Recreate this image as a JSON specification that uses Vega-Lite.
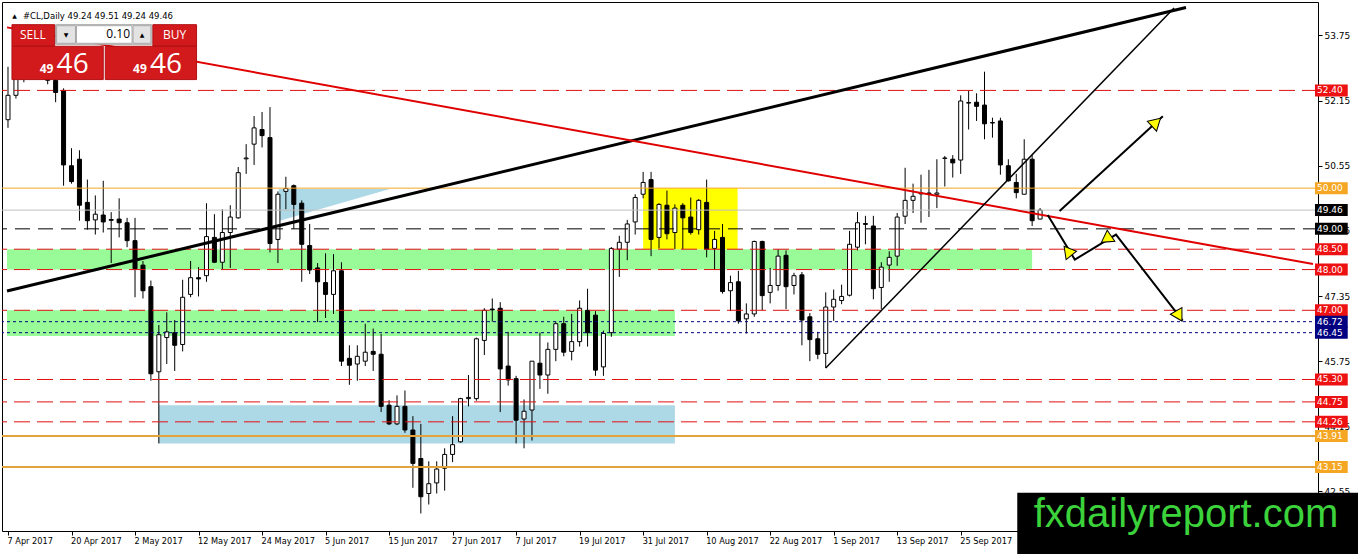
{
  "$schema": "https://vega.github.io/schema/vega-lite/v6.json",
  "description": "#CL daily candles with support/resistance levels, zones, trendlines and arrows.",
  "width": 1316,
  "height": 529,
  "autosize": {"type": "none"},
  "padding": {"left": 2, "top": 2, "right": 40, "bottom": 23},
  "background": "white",
  "config": {"view": {"stroke": "black", "strokeWidth": 1}, "axis": {"domain": false, "grid": false}},
  "datasets": {
    "candles": [
      {"i":0,"o":51.68,"h":52.98,"l":51.48,"c":52.28},{"i":1,"o":52.28,"h":53.0,"l":52.2,"c":52.8},
      {"i":2,"o":52.8,"h":53.35,"l":52.6,"c":53.25},{"i":3,"o":53.25,"h":53.6,"l":52.95,"c":53.05},
      {"i":4,"o":53.05,"h":53.45,"l":52.8,"c":53.15},{"i":5,"o":53.15,"h":53.3,"l":52.55,"c":52.65},
      {"i":6,"o":52.65,"h":52.95,"l":52.11,"c":52.35},{"i":7,"o":52.4,"h":52.45,"l":50.06,"c":50.57},
      {"i":8,"o":50.55,"h":50.98,"l":50.11,"c":50.16},{"i":9,"o":50.71,"h":50.93,"l":49.2,"c":49.58},
      {"i":10,"o":49.65,"h":50.21,"l":48.98,"c":49.2},{"i":11,"o":49.22,"h":49.82,"l":48.86,"c":49.36},
      {"i":12,"o":49.34,"h":50.18,"l":48.91,"c":49.17},{"i":13,"o":49.23,"h":49.41,"l":48.16,"c":49.21},
      {"i":14,"o":49.24,"h":49.75,"l":48.79,"c":49.15},{"i":15,"o":49.15,"h":49.27,"l":48.55,"c":48.71},
      {"i":16,"o":48.71,"h":49.27,"l":47.32,"c":48.02},{"i":17,"o":48.11,"h":48.21,"l":47.29,"c":47.48},
      {"i":18,"o":47.58,"h":47.73,"l":45.27,"c":45.44},{"i":19,"o":45.49,"h":46.64,"l":43.73,"c":46.4},
      {"i":20,"o":46.33,"h":46.95,"l":45.68,"c":46.47},{"i":21,"o":46.45,"h":46.76,"l":45.51,"c":46.14},
      {"i":22,"o":46.16,"h":47.75,"l":45.99,"c":47.32},{"i":23,"o":47.39,"h":48.21,"l":47.32,"c":47.8},
      {"i":24,"o":47.8,"h":48.06,"l":47.34,"c":47.77},{"i":25,"o":47.85,"h":49.63,"l":47.7,"c":48.81},
      {"i":26,"o":48.79,"h":49.36,"l":48.16,"c":48.18},{"i":27,"o":48.18,"h":49.48,"l":47.99,"c":48.91},
      {"i":28,"o":48.91,"h":49.58,"l":48.04,"c":49.29},{"i":29,"o":49.27,"h":50.52,"l":49.25,"c":50.38},
      {"i":30,"o":50.72,"h":51.08,"l":50.35,"c":50.74},{"i":31,"o":51.08,"h":51.77,"l":50.57,"c":51.48},
      {"i":32,"o":51.44,"h":51.87,"l":51.0,"c":51.29},{"i":33,"o":51.24,"h":51.99,"l":48.42,"c":48.64},
      {"i":34,"o":48.74,"h":49.92,"l":48.16,"c":49.85},{"i":35,"o":49.92,"h":50.28,"l":49.48,"c":49.99},
      {"i":36,"o":50.06,"h":50.09,"l":49.0,"c":49.6},{"i":37,"o":49.63,"h":49.7,"l":47.7,"c":48.62},
      {"i":38,"o":48.59,"h":49.12,"l":47.89,"c":47.99},{"i":39,"o":48.04,"h":48.16,"l":46.71,"c":47.7},
      {"i":40,"o":47.68,"h":48.4,"l":46.81,"c":47.39},{"i":41,"o":47.39,"h":48.38,"l":46.91,"c":47.97},
      {"i":42,"o":47.97,"h":48.18,"l":45.63,"c":45.75},{"i":43,"o":45.82,"h":46.14,"l":45.17,"c":45.65},
      {"i":44,"o":45.68,"h":46.14,"l":45.27,"c":45.87},{"i":45,"o":45.75,"h":46.67,"l":45.63,"c":45.97},
      {"i":46,"o":45.99,"h":46.55,"l":45.51,"c":45.92},{"i":47,"o":45.92,"h":46.42,"l":44.5,"c":44.64},
      {"i":48,"o":44.67,"h":44.79,"l":44.18,"c":44.21},{"i":49,"o":44.21,"h":44.91,"l":44.18,"c":44.64},
      {"i":50,"o":44.64,"h":45.03,"l":43.99,"c":44.06},{"i":51,"o":44.06,"h":44.4,"l":42.64,"c":43.24},
      {"i":52,"o":43.36,"h":44.21,"l":42.01,"c":42.42},{"i":53,"o":42.5,"h":43.29,"l":42.23,"c":42.74},
      {"i":54,"o":42.76,"h":43.29,"l":42.5,"c":43.1},{"i":55,"o":43.12,"h":43.61,"l":42.57,"c":43.46},
      {"i":56,"o":43.46,"h":44.4,"l":43.27,"c":43.7},{"i":57,"o":43.77,"h":44.85,"l":43.75,"c":44.83},
      {"i":58,"o":44.83,"h":45.41,"l":44.64,"c":44.86},{"i":59,"o":44.83,"h":46.33,"l":44.78,"c":46.3},
      {"i":60,"o":46.26,"h":47.05,"l":45.9,"c":47.0},{"i":61,"o":47.03,"h":47.29,"l":46.72,"c":47.01},
      {"i":62,"o":47.05,"h":47.2,"l":44.5,"c":45.56},{"i":63,"o":45.63,"h":46.47,"l":45.15,"c":45.29},
      {"i":64,"o":45.32,"h":45.39,"l":43.73,"c":44.3},{"i":65,"o":44.33,"h":44.81,"l":43.61,"c":44.52},
      {"i":66,"o":44.55,"h":45.75,"l":43.8,"c":45.75},{"i":67,"o":45.7,"h":46.45,"l":45.07,"c":45.41},
      {"i":68,"o":45.41,"h":46.21,"l":44.95,"c":46.04},{"i":69,"o":46.04,"h":46.72,"l":45.75,"c":46.67},
      {"i":70,"o":46.67,"h":46.84,"l":45.87,"c":45.97},{"i":71,"o":45.99,"h":46.91,"l":45.77,"c":46.23},
      {"i":72,"o":46.23,"h":47.24,"l":46.11,"c":47.05},{"i":73,"o":47.0,"h":47.53,"l":46.11,"c":46.45},
      {"i":74,"o":46.88,"h":46.98,"l":45.39,"c":45.53},{"i":75,"o":45.61,"h":46.5,"l":45.39,"c":46.43},
      {"i":76,"o":46.45,"h":48.55,"l":46.35,"c":48.52},{"i":77,"o":48.5,"h":48.83,"l":47.82,"c":48.67},
      {"i":78,"o":48.67,"h":49.22,"l":48.23,"c":49.12},{"i":79,"o":49.17,"h":49.85,"l":48.86,"c":49.77},
      {"i":80,"o":49.85,"h":50.4,"l":49.75,"c":50.14},{"i":81,"o":50.21,"h":50.4,"l":48.33,"c":48.74},
      {"i":82,"o":48.79,"h":49.63,"l":48.52,"c":49.6},{"i":83,"o":49.58,"h":49.94,"l":48.74,"c":48.88},
      {"i":84,"o":48.91,"h":49.6,"l":48.5,"c":49.51},{"i":85,"o":49.58,"h":49.63,"l":48.5,"c":49.27},
      {"i":86,"o":49.29,"h":49.77,"l":48.86,"c":48.91},{"i":87,"o":48.98,"h":49.73,"l":48.86,"c":49.7},
      {"i":88,"o":49.65,"h":50.21,"l":48.3,"c":48.5},{"i":89,"o":48.52,"h":48.95,"l":47.99,"c":48.74},
      {"i":90,"o":48.79,"h":49.12,"l":47.41,"c":47.46},{"i":91,"o":47.48,"h":47.85,"l":46.98,"c":47.68},
      {"i":92,"o":47.7,"h":47.97,"l":46.67,"c":46.74},{"i":93,"o":46.79,"h":47.17,"l":46.43,"c":46.91},
      {"i":94,"o":46.91,"h":48.71,"l":46.84,"c":48.69},{"i":95,"o":48.69,"h":48.71,"l":47.0,"c":47.36},
      {"i":96,"o":47.44,"h":48.04,"l":47.17,"c":47.61},{"i":97,"o":47.61,"h":48.5,"l":47.48,"c":48.33},
      {"i":98,"o":48.35,"h":48.47,"l":47.03,"c":47.58},{"i":99,"o":47.61,"h":47.92,"l":47.39,"c":47.85},
      {"i":100,"o":47.87,"h":47.94,"l":46.14,"c":46.76},{"i":101,"o":46.84,"h":46.93,"l":45.75,"c":46.28},
      {"i":102,"o":46.3,"h":46.47,"l":45.8,"c":45.92},{"i":103,"o":45.94,"h":47.44,"l":45.58,"c":47.08},
      {"i":104,"o":47.08,"h":47.51,"l":46.74,"c":47.27},{"i":105,"o":47.24,"h":47.63,"l":47.15,"c":47.34},
      {"i":106,"o":47.37,"h":48.95,"l":47.34,"c":48.62},{"i":107,"o":48.55,"h":49.41,"l":48.47,"c":49.15},
      {"i":108,"o":49.13,"h":49.32,"l":48.62,"c":49.11},{"i":109,"o":49.07,"h":49.32,"l":47.27,"c":47.53},
      {"i":110,"o":47.56,"h":48.18,"l":47.03,"c":48.06},{"i":111,"o":48.11,"h":48.45,"l":47.7,"c":48.3},
      {"i":112,"o":48.33,"h":49.39,"l":48.09,"c":49.29},{"i":113,"o":49.31,"h":50.5,"l":49.12,"c":49.7},
      {"i":114,"o":49.7,"h":50.11,"l":49.39,"c":49.8},{"i":115,"o":49.88,"h":50.33,"l":49.15,"c":49.86},
      {"i":116,"o":49.88,"h":50.45,"l":49.29,"c":49.86},{"i":117,"o":49.85,"h":50.71,"l":49.51,"c":49.88},
      {"i":118,"o":50.73,"h":50.79,"l":50.04,"c":50.74},{"i":119,"o":50.71,"h":50.81,"l":50.26,"c":50.62},
      {"i":120,"o":50.69,"h":52.28,"l":50.35,"c":52.14},{"i":121,"o":52.1,"h":52.4,"l":51.44,"c":52.09},
      {"i":122,"o":52.11,"h":52.33,"l":51.65,"c":52.01},{"i":123,"o":52.04,"h":52.86,"l":51.2,"c":51.58},
      {"i":124,"o":51.61,"h":51.73,"l":51.24,"c":51.6},{"i":125,"o":51.65,"h":51.73,"l":50.33,"c":50.57},
      {"i":126,"o":50.55,"h":50.71,"l":50.16,"c":50.18},{"i":127,"o":50.14,"h":50.35,"l":49.75,"c":49.89},
      {"i":128,"o":49.85,"h":51.2,"l":49.85,"c":50.71},{"i":129,"o":50.71,"h":50.81,"l":49.07,"c":49.2},
      {"i":130,"o":49.24,"h":49.51,"l":49.24,"c":49.46}
    ],
    "levels": [
      {"p":52.40,"k":"r"},{"p":50.00,"k":"o"},{"p":49.46,"k":"g"},{"p":49.00,"k":"b"},
      {"p":48.50,"k":"r"},{"p":48.00,"k":"r"},{"p":47.00,"k":"r"},{"p":46.72,"k":"n"},
      {"p":46.45,"k":"n"},{"p":45.30,"k":"r"},{"p":44.75,"k":"r"},{"p":44.26,"k":"r"},
      {"p":43.91,"k":"oo"},{"p":43.15,"k":"oo"}
    ],
    "zones": [
      {"i":-0.125,"i2":129,"p":48.5,"p2":48.0,"k":"green"},
      {"i":-0.125,"i2":84,"p":47.0,"p2":46.37,"k":"green"},
      {"i":19,"i2":84,"p":44.67,"p2":43.73,"k":"lblue"},
      {"i":80,"i2":91.9,"p":50.0,"p2":48.5,"k":"yellow"}
    ],
    "tri": [
      {"i":34.1,"p":49.98,"p2":49.19},
      {"i":48.1,"p":49.98,"p2":49.98}
    ],
    "lines": [
      {"g":"thick","i":-0.125,"p":47.473},{"g":"thick","i":148.375,"p":54.437},
      {"g":"red","i":-0.125,"p":53.948},{"g":"red","i":164.375,"p":48.136},
      {"g":"thin","i":103,"p":45.58},{"g":"thin","i":146.875,"p":54.425},
      {"g":"A","i":132.46,"p":49.437},{"g":"A","i":145.46,"p":51.767},
      {"g":"B","i":130.96,"p":49.34},{"g":"B","i":134.375,"p":48.244},
      {"g":"B","i":139.56,"p":48.858},{"g":"B","i":147.96,"p":46.745}
    ],
    "heads": [
      {"g":"A","i":144.625,"p":51.617},
      {"g":"B1","i":133.875,"p":48.43},
      {"g":"B2","i":138.75,"p":48.755},
      {"g":"B3","i":147.5,"p":46.86}
    ],
    "panel": [
      {"i":6.0,"i2":18.125,"p":54.015,"p2":53.533,"k":"ctrl"},
      {"i":6.125,"i2":8.5,"p":53.99,"p2":53.557,"k":"btn"},
      {"i":8.625,"i2":15.625,"p":53.99,"p2":53.557,"k":"field"},
      {"i":15.75,"i2":18.0,"p":53.99,"p2":53.557,"k":"btn"},
      {"i":0.5,"i2":5.875,"p":54.015,"p2":53.485,"k":"red"},
      {"i":18.25,"i2":23.75,"p":54.015,"p2":53.485,"k":"red"},
      {"i":0.5,"i2":12.0,"p":53.485,"p2":52.666,"k":"red"},
      {"i":12.25,"i2":23.75,"p":53.485,"p2":52.666,"k":"red"}
    ],
    "ptext": [
      {"t":"SELL","i":3.125,"p":53.75,"k":"lbl"},
      {"t":"BUY","i":21.0,"p":53.75,"k":"lbl"},
      {"t":"0.10","i":15.375,"p":53.774,"k":"qty"},
      {"t":"▼","i":7.3125,"p":53.762,"k":"arr"},
      {"t":"▲","i":16.875,"p":53.762,"k":"arr"},
      {"t":"49","i":4.0,"p":52.834,"k":"sm"},
      {"t":"46","i":6.125,"p":52.834,"k":"big"},
      {"t":"49","i":15.75,"p":52.834,"k":"sm"},
      {"t":"46","i":17.875,"p":52.834,"k":"big"},
      {"t":"▲","i":0.8125,"p":54.232,"k":"arr"},
      {"t":"#CL,Daily  49.24 49.51 49.24 49.46","i":1.875,"p":54.232,"k":"hdr"}
    ],
    "wm": [
      {"i":127.125,"i2":175,"p":42.521,"p2":40.5,"t":"fxdailyreport.com","ti":148.375,"tp":41.678}
    ]
  },
  "layer": [
    {
      "data": {"name": "zones"},
      "mark": {"type": "rect"},
      "encoding": {
        "x": {
          "field": "i", "type": "quantitative",
          "scale": {"domain": [-0.125, 164.375], "nice": false, "zero": false},
          "axis": {
            "orient": "bottom", "title": null,
            "values": [0, 8, 16, 24, 32, 40, 48, 56, 64, 72, 80, 88, 96, 104, 112, 120],
            "labelExpr": "['7 Apr 2017','20 Apr 2017','2 May 2017','12 May 2017','24 May 2017','5 Jun 2017','15 Jun 2017','27 Jun 2017','7 Jul 2017','19 Jul 2017','31 Jul 2017','10 Aug 2017','22 Aug 2017','1 Sep 2017','13 Sep 2017','25 Sep 2017'][round(datum.value / 8)]",
            "tickSize": 4, "tickColor": "black",
            "labelAlign": "left", "labelBaseline": "top", "labelPadding": 2, "labelOffset": -1,
            "labelFont": "DejaVu Sans", "labelFontSize": 8.2, "labelColor": "black",
            "labelOverlap": false, "labelBound": false, "labelFlush": false
          }
        },
        "x2": {"field": "i2"},
        "y": {
          "field": "p", "type": "quantitative",
          "scale": {"domain": [41.7018, 54.4488], "nice": false, "zero": false},
          "axis": {
            "orient": "right", "title": null,
            "values": [53.75, 52.95, 52.15, 51.35, 50.55, 49.75, 48.95, 48.15, 47.35, 46.55, 45.75, 44.95, 44.15, 43.35, 42.55],
            "format": ".2f", "tickSize": 4, "tickColor": "black", "labelPadding": 2,
            "labelFont": "DejaVu Sans", "labelFontSize": 9, "labelColor": "black",
            "labelOverlap": false, "labelBound": false, "labelFlush": false
          }
        },
        "y2": {"field": "p2"},
        "fill": {
          "field": "k", "type": "nominal", "legend": null,
          "scale": {
            "domain": ["green","lblue","yellow","r","o","oo","g","b","n","ctrl","btn","field","red"],
            "range": ["#98FB98","#ADD8E6","#FFFF00","#EE1111","#F5A623","#F5A623","#000000","#000000","#000080","#F0F0F0","#E3E3E3","#FFFFFF","#D2191B"]
          }
        }
      }
    },
    {
      "data": {"name": "tri"},
      "mark": {"type": "area", "color": "#ADD8E6", "opacity": 1},
      "encoding": {
        "x": {"field": "i", "type": "quantitative", "title": null},
        "y": {"field": "p", "type": "quantitative", "title": null},
        "y2": {"field": "p2"}
      }
    },
    {
      "data": {"name": "candles"},
      "mark": {"type": "rule", "color": "black", "strokeWidth": 1},
      "encoding": {
        "x": {"field": "i", "type": "quantitative", "title": null},
        "y": {"field": "l", "type": "quantitative", "title": null},
        "y2": {"field": "h"}
      }
    },
    {
      "data": {"name": "candles"},
      "mark": {"type": "bar", "size": 4, "stroke": "black", "strokeWidth": 1},
      "encoding": {
        "x": {"field": "i", "type": "quantitative", "title": null},
        "y": {"field": "o", "type": "quantitative", "title": null},
        "y2": {"field": "c"},
        "fill": {"condition": {"test": "datum.c >= datum.o", "value": "white"}, "value": "black"}
      }
    },
    {
      "data": {"name": "levels"},
      "transform": [{"filter": "datum.k == 'g'"}],
      "mark": {"type": "rule", "color": "#C0C0C0", "strokeWidth": 1},
      "encoding": {"y": {"field": "p", "type": "quantitative", "title": null}}
    },
    {
      "data": {"name": "levels"},
      "transform": [{"filter": "datum.k == 'r'"}],
      "mark": {"type": "rule", "color": "#E01010", "strokeWidth": 1, "strokeDash": [16, 7]},
      "encoding": {"y": {"field": "p", "type": "quantitative", "title": null}}
    },
    {
      "data": {"name": "levels"},
      "transform": [{"filter": "datum.k == 'o'"}],
      "mark": {"type": "rule", "color": "#F5A623", "strokeWidth": 1},
      "encoding": {"y": {"field": "p", "type": "quantitative", "title": null}}
    },
    {
      "data": {"name": "levels"},
      "transform": [{"filter": "datum.k == 'oo'"}],
      "mark": {"type": "rule", "color": "#E3A33C", "strokeWidth": 2},
      "encoding": {"y": {"field": "p", "type": "quantitative", "title": null}}
    },
    {
      "data": {"name": "levels"},
      "transform": [{"filter": "datum.k == 'b'"}],
      "mark": {"type": "rule", "color": "black", "strokeWidth": 1, "strokeDash": [15, 8]},
      "encoding": {"y": {"field": "p", "type": "quantitative", "title": null}}
    },
    {
      "data": {"name": "levels"},
      "transform": [{"filter": "datum.k == 'n'"}],
      "mark": {"type": "rule", "color": "#000080", "strokeWidth": 1, "strokeDash": [3, 3]},
      "encoding": {"y": {"field": "p", "type": "quantitative", "title": null}}
    },
    {
      "data": {"name": "lines"},
      "transform": [{"filter": "datum.g == 'thick'"}],
      "mark": {"type": "line", "color": "black", "strokeWidth": 3},
      "encoding": {
        "x": {"field": "i", "type": "quantitative", "title": null},
        "y": {"field": "p", "type": "quantitative", "title": null}
      }
    },
    {
      "data": {"name": "lines"},
      "transform": [{"filter": "datum.g == 'red'"}],
      "mark": {"type": "line", "color": "#E00000", "strokeWidth": 2},
      "encoding": {
        "x": {"field": "i", "type": "quantitative", "title": null},
        "y": {"field": "p", "type": "quantitative", "title": null}
      }
    },
    {
      "data": {"name": "lines"},
      "transform": [{"filter": "datum.g == 'thin'"}],
      "mark": {"type": "line", "color": "black", "strokeWidth": 1.5},
      "encoding": {
        "x": {"field": "i", "type": "quantitative", "title": null},
        "y": {"field": "p", "type": "quantitative", "title": null}
      }
    },
    {
      "data": {"name": "lines"},
      "transform": [{"filter": "datum.g == 'A' || datum.g == 'B'"}],
      "mark": {"type": "line", "color": "black", "strokeWidth": 2},
      "encoding": {
        "x": {"field": "i", "type": "quantitative", "title": null},
        "y": {"field": "p", "type": "quantitative", "title": null},
        "detail": {"field": "g"}
      }
    },
    {
      "data": {"name": "heads"},
      "mark": {"type": "point", "shape": "triangle-up", "filled": true, "fill": "#FFFF00", "stroke": "black", "strokeWidth": 1, "size": 180, "opacity": 1},
      "encoding": {
        "x": {"field": "i", "type": "quantitative", "title": null},
        "y": {"field": "p", "type": "quantitative", "title": null},
        "angle": {"field": "g", "type": "nominal", "legend": null, "scale": {"domain": ["A","B1","B2","B3"], "range": [47, 150, 57, 143]}}
      }
    },
    {
      "data": {"name": "panel"},
      "mark": {"type": "rect", "strokeWidth": 1},
      "encoding": {
        "x": {"field": "i", "type": "quantitative", "title": null},
        "x2": {"field": "i2"},
        "y": {"field": "p", "type": "quantitative", "title": null},
        "y2": {"field": "p2"},
        "fill": {
          "field": "k", "type": "nominal", "legend": null,
          "scale": {
            "domain": ["green","lblue","yellow","r","o","oo","g","b","n","ctrl","btn","field","red"],
            "range": ["#98FB98","#ADD8E6","#FFFF00","#EE1111","#F5A623","#F5A623","#000000","#000000","#000080","#F0F0F0","#E3E3E3","#FFFFFF","#D2191B"]
          }
        },
        "stroke": {"condition": {"test": "datum.k != 'red'", "value": "#A8A8A8"}, "value": "#B01014"}
      }
    },
    {
      "data": {"name": "ptext"},
      "transform": [{"filter": "datum.k == 'lbl'"}],
      "mark": {"type": "text", "color": "white", "font": "Open Sans", "fontSize": 12, "align": "center", "baseline": "middle"},
      "encoding": {
        "x": {"field": "i", "type": "quantitative", "title": null},
        "y": {"field": "p", "type": "quantitative", "title": null},
        "text": {"field": "t"}
      }
    },
    {
      "data": {"name": "ptext"},
      "transform": [{"filter": "datum.k == 'qty'"}],
      "mark": {"type": "text", "color": "black", "font": "Open Sans", "fontSize": 12, "align": "right", "baseline": "middle"},
      "encoding": {
        "x": {"field": "i", "type": "quantitative", "title": null},
        "y": {"field": "p", "type": "quantitative", "title": null},
        "text": {"field": "t"}
      }
    },
    {
      "data": {"name": "ptext"},
      "transform": [{"filter": "datum.k == 'arr'"}],
      "mark": {"type": "text", "color": "black", "font": "DejaVu Sans", "fontSize": 6, "align": "center", "baseline": "middle"},
      "encoding": {
        "x": {"field": "i", "type": "quantitative", "title": null},
        "y": {"field": "p", "type": "quantitative", "title": null},
        "text": {"field": "t"}
      }
    },
    {
      "data": {"name": "ptext"},
      "transform": [{"filter": "datum.k == 'sm'"}],
      "mark": {"type": "text", "color": "white", "font": "Open Sans", "fontSize": 12, "fontWeight": "bold", "align": "left", "baseline": "alphabetic"},
      "encoding": {
        "x": {"field": "i", "type": "quantitative", "title": null},
        "y": {"field": "p", "type": "quantitative", "title": null},
        "text": {"field": "t"}
      }
    },
    {
      "data": {"name": "ptext"},
      "transform": [{"filter": "datum.k == 'big'"}],
      "mark": {"type": "text", "color": "white", "font": "Open Sans", "fontSize": 28, "align": "left", "baseline": "alphabetic"},
      "encoding": {
        "x": {"field": "i", "type": "quantitative", "title": null},
        "y": {"field": "p", "type": "quantitative", "title": null},
        "text": {"field": "t"}
      }
    },
    {
      "data": {"name": "ptext"},
      "transform": [{"filter": "datum.k == 'hdr'"}],
      "mark": {"type": "text", "color": "black", "font": "DejaVu Sans", "fontSize": 8.5, "align": "left", "baseline": "middle"},
      "encoding": {
        "x": {"field": "i", "type": "quantitative", "title": null},
        "y": {"field": "p", "type": "quantitative", "title": null},
        "text": {"field": "t"}
      }
    },
    {
      "data": {"name": "levels"},
      "mark": {"type": "bar", "orient": "horizontal", "size": 12},
      "encoding": {
        "x": {"datum": 164.625, "type": "quantitative", "title": null},
        "x2": {"datum": 168.75},
        "y": {"field": "p", "type": "quantitative", "title": null},
        "fill": {
          "field": "k", "type": "nominal", "legend": null,
          "scale": {
            "domain": ["green","lblue","yellow","r","o","oo","g","b","n","ctrl","btn","field","red"],
            "range": ["#98FB98","#ADD8E6","#FFFF00","#EE1111","#F5A623","#F5A623","#000000","#000000","#000080","#F0F0F0","#E3E3E3","#FFFFFF","#D2191B"]
          }
        }
      }
    },
    {
      "data": {"name": "levels"},
      "mark": {"type": "text", "color": "white", "font": "DejaVu Sans", "fontSize": 9, "align": "left", "baseline": "middle"},
      "encoding": {
        "x": {"datum": 164.875, "type": "quantitative", "title": null},
        "y": {"field": "p", "type": "quantitative", "title": null},
        "text": {"field": "p", "type": "quantitative", "format": ".2f"}
      }
    },
    {
      "data": {"name": "wm"},
      "mark": {"type": "rect", "color": "black"},
      "encoding": {
        "x": {"field": "i", "type": "quantitative", "title": null},
        "x2": {"field": "i2"},
        "y": {"field": "p", "type": "quantitative", "title": null},
        "y2": {"field": "p2"}
      }
    },
    {
      "data": {"name": "wm"},
      "mark": {"type": "text", "color": "#3BD23B", "font": "Liberation Sans", "fontSize": 40, "align": "center", "baseline": "alphabetic"},
      "encoding": {
        "x": {"field": "ti", "type": "quantitative", "title": null},
        "y": {"field": "tp", "type": "quantitative", "title": null},
        "text": {"field": "t"}
      }
    }
  ]
}
